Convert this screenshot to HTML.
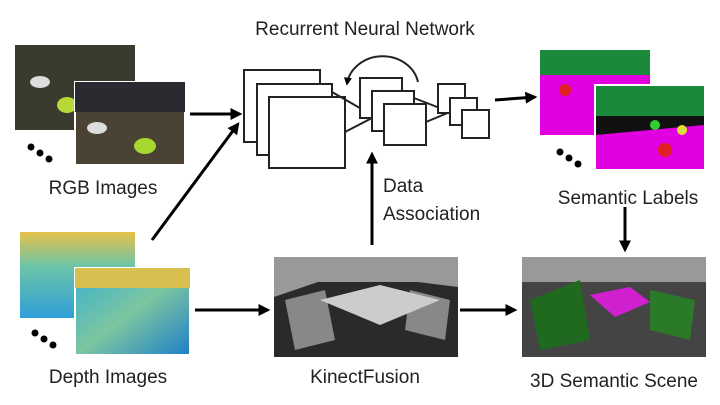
<!DOCTYPE html><html><head><style>body{margin:0;width:720px;height:400px;background:#fff;overflow:hidden;font-family:"Liberation Sans",sans-serif}</style></head><body>
<svg width="720" height="400" xmlns="http://www.w3.org/2000/svg">
<defs>
<marker id="a" viewBox="0 0 10 10" refX="8" refY="5" markerWidth="4" markerHeight="4" orient="auto"><path d="M0 0L10 5L0 10z" fill="#000"/></marker>
<linearGradient id="dp" x1="0" y1="0" x2="1" y2="1"><stop offset="0" stop-color="#3ab0d0"/><stop offset=".5" stop-color="#7cc6a0"/><stop offset="1" stop-color="#1e7fc8"/></linearGradient>
<linearGradient id="dp2" x1="0" y1="0" x2="0" y2="1"><stop offset="0" stop-color="#e6c14a"/><stop offset=".4" stop-color="#6cc4a8"/><stop offset="1" stop-color="#2f9fd8"/></linearGradient>
</defs>
<text x="365" y="35" font-size="19" text-anchor="middle" fill="#222">Recurrent Neural Network</text>
<rect x="15" y="45" width="120" height="85" fill="#3a3a2e"/><ellipse cx="40" cy="82" rx="10" ry="6" fill="#ddd"/><ellipse cx="67" cy="105" rx="10" ry="8" fill="#b8d838"/>
<rect x="75" y="82" width="110" height="83" fill="#4a4232" stroke="#fff" stroke-width="2"/><rect x="75" y="82" width="110" height="30" fill="#2a2a30"/><ellipse cx="97" cy="128" rx="10" ry="6" fill="#ddd"/><ellipse cx="145" cy="146" rx="11" ry="8" fill="#a8d830"/>
<g fill="#000"><circle cx="31" cy="147" r="3.5"/><circle cx="40" cy="153" r="3.5"/><circle cx="49" cy="159" r="3.5"/>
<circle cx="35" cy="333" r="3.5"/><circle cx="44" cy="339" r="3.5"/><circle cx="53" cy="345" r="3.5"/>
<circle cx="560" cy="152" r="3.5"/><circle cx="569" cy="158" r="3.5"/><circle cx="578" cy="164" r="3.5"/></g>
<text x="103" y="194" font-size="19" text-anchor="middle" fill="#222">RGB Images</text>
<rect x="20" y="232" width="115" height="86" fill="url(#dp2)"/>
<rect x="75" y="268" width="115" height="87" fill="url(#dp)" stroke="#fff" stroke-width="2"/><rect x="75" y="268" width="115" height="20" fill="#d8c050"/>
<text x="108" y="383" font-size="19" text-anchor="middle" fill="#222">Depth Images</text>
<g fill="#fff" stroke="#222" stroke-width="2">
<rect x="244" y="70" width="76" height="72"/><rect x="257" y="84" width="75" height="71"/><rect x="269" y="97" width="76" height="71"/>
<line x1="332" y1="92" x2="372" y2="115"/><line x1="345" y1="132" x2="372" y2="118"/>
<rect x="360" y="78" width="42" height="40"/><rect x="372" y="91" width="42" height="40"/><rect x="384" y="104" width="42" height="41"/>
<line x1="414" y1="98" x2="450" y2="112"/><line x1="426" y1="122" x2="450" y2="112"/>
<rect x="438" y="84" width="27" height="29"/><rect x="450" y="98" width="27" height="27"/><rect x="462" y="110" width="27" height="28"/>
<path d="M418 82 A36 32 0 0 0 347 84" fill="none" marker-end="url(#a)"/>
</g>
<rect x="540" y="50" width="110" height="85" fill="#e000e0"/><rect x="540" y="50" width="110" height="25" fill="#1a8a3a"/><circle cx="565" cy="90" r="6" fill="#e02020"/>
<rect x="595" y="85" width="110" height="85" fill="#111" stroke="#fff" stroke-width="2"/><rect x="596" y="86" width="108" height="30" fill="#1a8a3a"/><path d="M596 135L704 125L704 169L596 169z" fill="#e000e0"/><circle cx="655" cy="125" r="5" fill="#30d030"/><circle cx="682" cy="130" r="5" fill="#e0e030"/><circle cx="665" cy="150" r="7" fill="#e02020"/>
<text x="628" y="204" font-size="19" text-anchor="middle" fill="#222">Semantic Labels</text>
<rect x="274" y="257" width="184" height="100" fill="#2a2a2a"/><path d="M274 257h184v30l-40 -5-100 0-44 15z" fill="#999"/><path d="M285 300l40-10 10 50-40 10z" fill="#888"/><path d="M410 290l40 10-5 40-40-10z" fill="#888"/><path d="M320 300l60-15 60 15-60 25z" fill="#ccc"/>
<text x="365" y="383" font-size="19" text-anchor="middle" fill="#222">KinectFusion</text>
<rect x="522" y="257" width="184" height="100" fill="#444"/><path d="M522 257h184v25h-184z" fill="#999"/><path d="M530 300l50-20 10 60-50 10z" fill="#1f6a1f"/><path d="M650 290l45 10-5 40-40-10z" fill="#2a7a2a"/><path d="M590 295l40-8 20 15-35 15z" fill="#d020d0"/>
<text x="614" y="387" font-size="19" text-anchor="middle" fill="#222">3D Semantic Scene</text>
<text x="383" y="192" font-size="19" fill="#222">Data</text><text x="383" y="220" font-size="19" fill="#222">Association</text>
<g stroke="#000" stroke-width="3" fill="none" marker-end="url(#a)">
<line x1="190" y1="114" x2="240" y2="114"/>
<line x1="152" y1="240" x2="238" y2="124"/>
<line x1="195" y1="310" x2="268" y2="310"/>
<line x1="372" y1="245" x2="372" y2="154"/>
<line x1="460" y1="310" x2="515" y2="310"/>
<line x1="495" y1="100" x2="535" y2="97"/>
<line x1="625" y1="207" x2="625" y2="250"/>
</g>
</svg></body></html>
